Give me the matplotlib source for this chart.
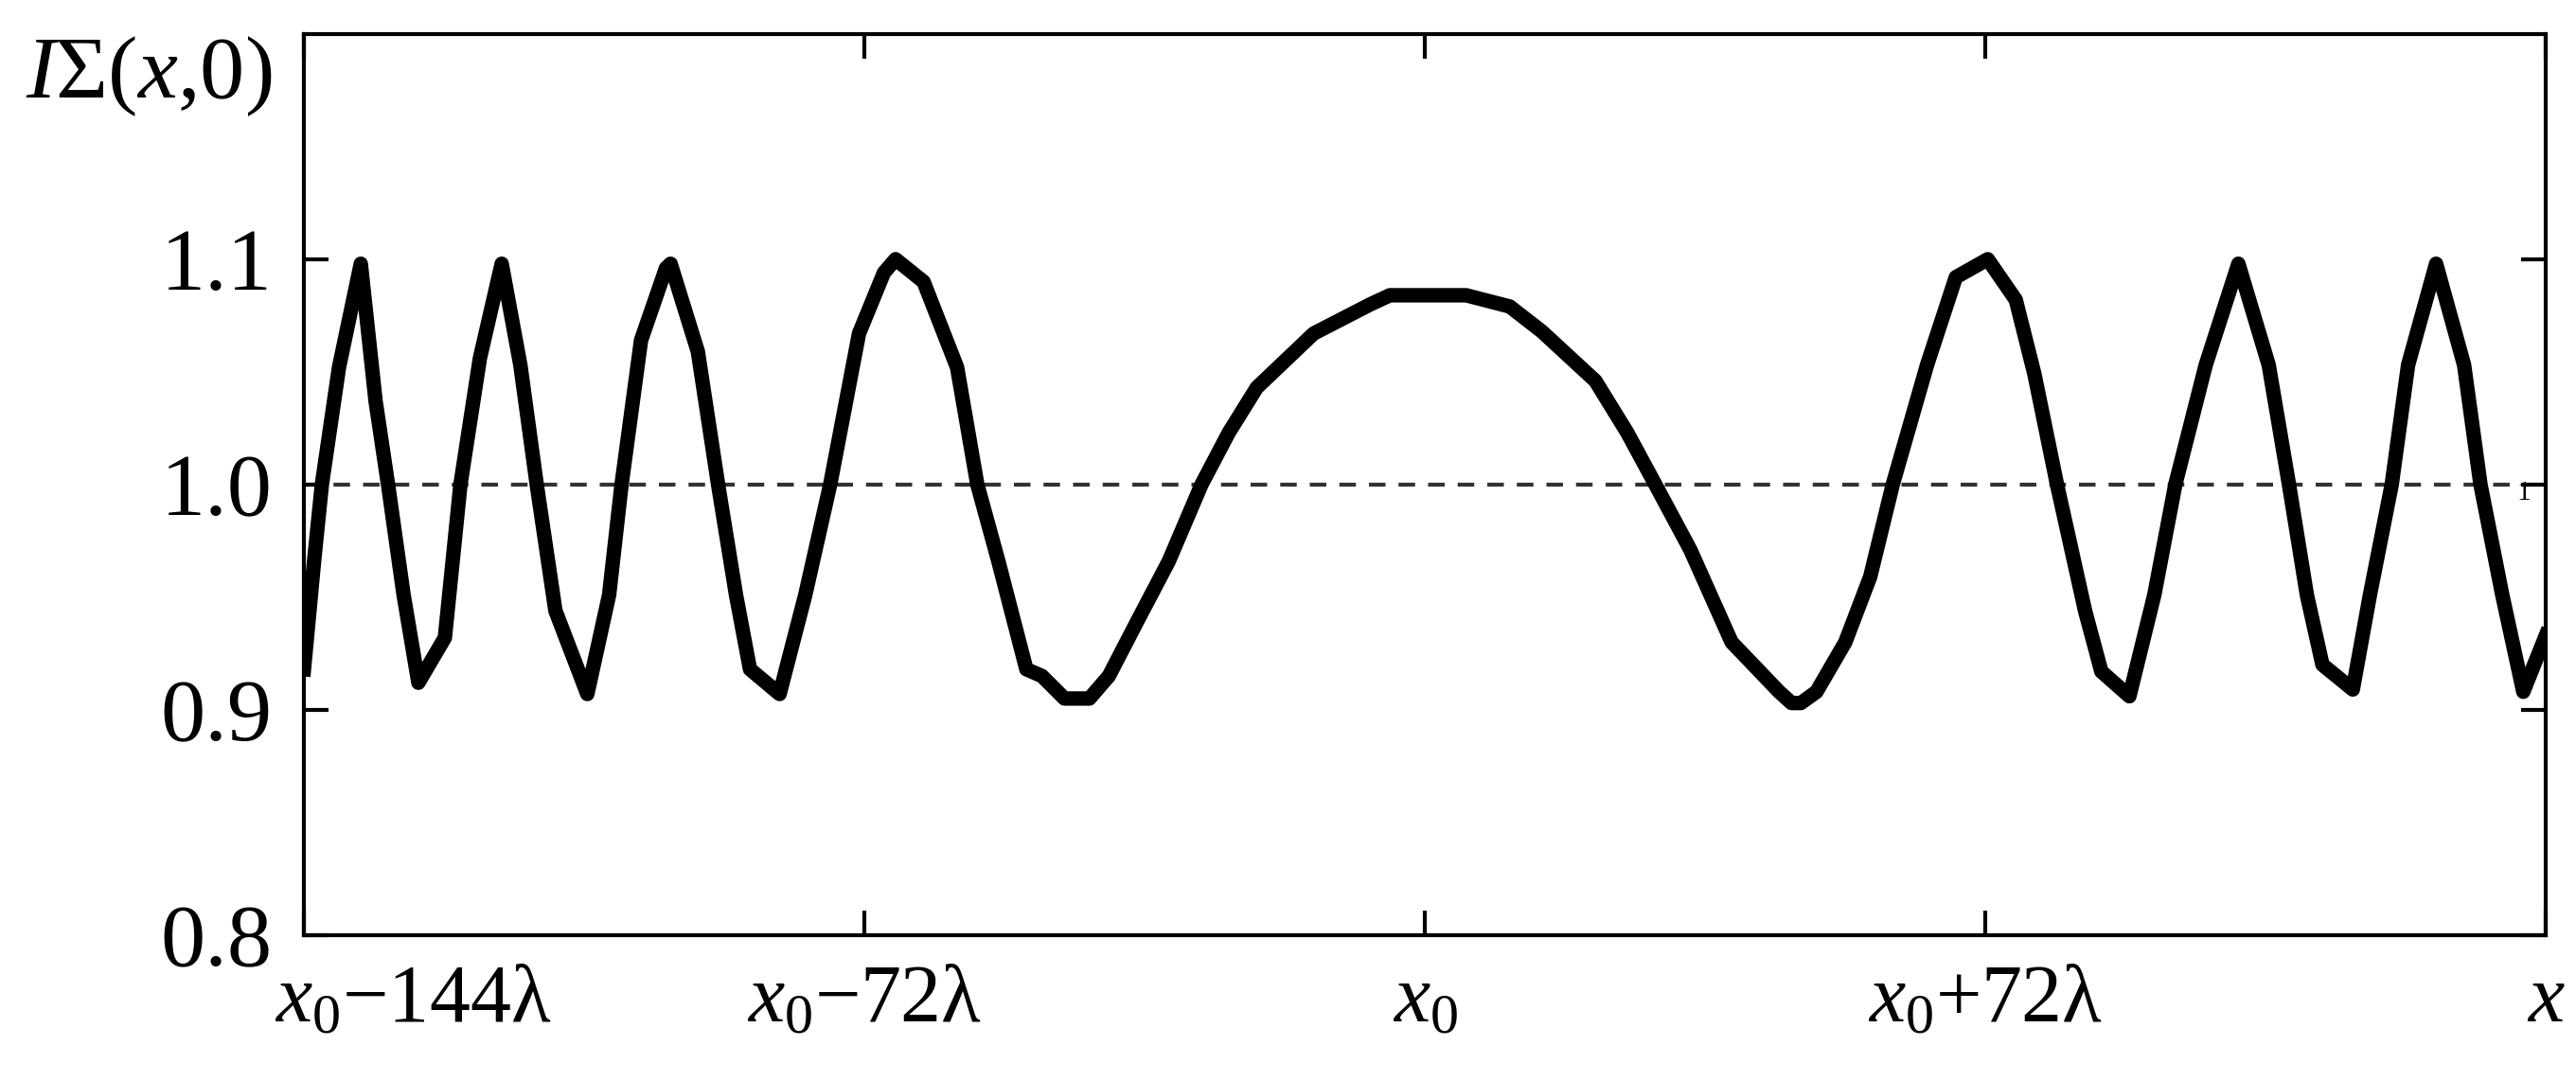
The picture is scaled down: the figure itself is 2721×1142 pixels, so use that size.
import matplotlib
matplotlib.use("Agg")
import matplotlib.pyplot as plt
import matplotlib.transforms as mtransforms

# x in units of lambda relative to x0, y = I_sum(x, 0)
x_lam = [-144.0, -142.7, -141.7, -139.5, -136.7, -134.8, -133.2, -131.2, -129.3,
         -125.9, -123.9, -121.4, -118.6, -116.2, -114.1, -111.7, -107.6, -104.8,
         -103.2, -100.7, -97.5, -96.9, -93.4, -90.8, -88.5, -86.7, -82.9, -79.6,
         -76.4, -72.7, -69.5, -68.0, -64.4, -60.1, -57.5, -54.8, -51.2, -49.2,
         -46.3, -43.1, -40.6, -37.0, -32.9, -28.7, -25.2, -21.6, -14.3, -7.0,
         -4.5, 0.0, 5.3, 10.9, 15.0, 21.9, 26.0, 29.6, 34.1, 39.4, 45.5, 47.1,
         48.3, 50.3, 54.0, 57.2, 60.1, 64.5, 68.2, 72.3, 75.9, 78.3, 81.2, 84.8,
         86.9, 90.5, 93.7, 96.4, 100.3, 104.5, 108.4, 111.0, 113.3, 115.3, 119.2,
         121.4, 124.2, 126.3, 129.9, 133.5, 135.6, 138.4, 141.1, 144.0]
intensity = [0.918, 0.966, 1.000, 1.052, 1.098, 1.037, 1.000, 0.951, 0.912,
             0.932, 1.000, 1.056, 1.098, 1.053, 1.000, 0.944, 0.907, 0.951,
             1.000, 1.064, 1.096, 1.098, 1.059, 1.000, 0.951, 0.918, 0.907, 0.951,
             1.000, 1.067, 1.094, 1.100, 1.090, 1.052, 1.000, 0.966, 0.918, 0.915,
             0.905, 0.905, 0.915, 0.939, 0.966, 1.000, 1.023, 1.043, 1.067, 1.080,
             1.084, 1.084, 1.084, 1.079, 1.068, 1.046, 1.023, 1.000, 0.971, 0.930,
             0.908, 0.903, 0.903, 0.908, 0.930, 0.959, 1.000, 1.053, 1.092, 1.100,
             1.082, 1.049, 1.000, 0.944, 0.917, 0.906, 0.951, 1.000, 1.053, 1.098,
             1.053, 1.000, 0.951, 0.920, 0.909, 0.951, 1.000, 1.053, 1.098, 1.053,
             1.000, 0.951, 0.908, 0.933]

x_ticks = [-144, -72, 0, 72, 144]
x_labels = ["$x_0$\u2212144\u03bb", "$x_0$\u221272\u03bb", "$x_0$", "$x_0$+72\u03bb", "$x$"]
y_ticks = [0.8, 0.9, 1.0, 1.1]
y_labels = ["0.8", "0.9", "1.0", "1.1"]

plt.rcParams["font.family"] = ["Liberation Serif", "DejaVu Serif"]
plt.rcParams["mathtext.fontset"] = "custom"
plt.rcParams["mathtext.rm"] = "Liberation Serif"
plt.rcParams["mathtext.it"] = "Liberation Serif:italic"

fig = plt.figure(figsize=(27.21, 11.42), dpi=100)
ax = fig.add_axes([0.118, 0.135, 0.8703, 0.8336])

ax.axhline(1.0, color="#333333", lw=3, ls=(0, (4.2, 3.3)), zorder=1)
ax.plot(x_lam, intensity, color="black", lw=11, solid_joinstyle="round", zorder=2)

ax.set_xlim(-144, 144)
ax.set_ylim(0.8, 1.2)
ax.set_xticks(x_ticks)
ax.set_xticklabels(x_labels, fontsize=62)
ax.set_yticks(y_ticks)
ax.set_yticklabels(y_labels, fontsize=68)
ax.tick_params(direction="in", length=19, width=3, top=True, right=True)
ax.tick_params(axis="x", pad=22)
ax.tick_params(axis="y", pad=24)
for s in ax.spines.values():
    s.set_linewidth(3)

# first x label starts just left of the axis edge
first = ax.get_xticklabels()[0]
first.set_horizontalalignment("left")
first.set_transform(first.get_transform() +
                    mtransforms.ScaledTranslation(-0.31, 0, fig.dpi_scale_trans))

ax.text(141.2, 0.996, "1", fontsize=21, ha="center", va="center")
fig.text(0.010, 0.968, "$I$\u03a3($x$,0)", fontsize=68, ha="left", va="top")

fig.savefig("out.png", dpi=100)
